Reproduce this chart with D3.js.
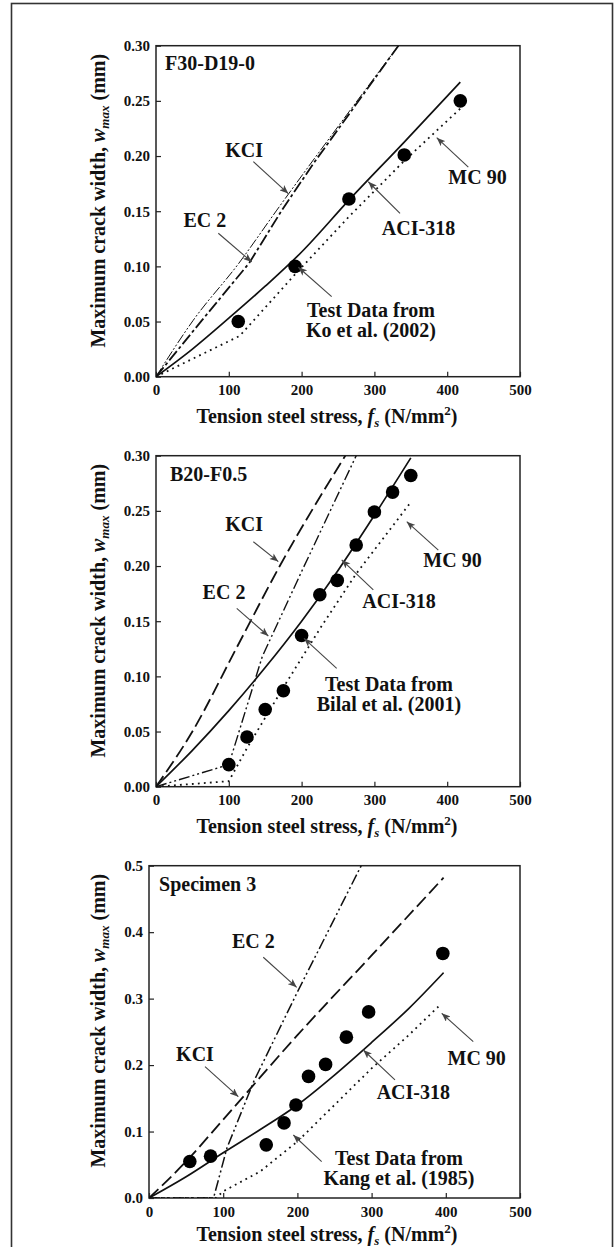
<!DOCTYPE html>
<html><head><meta charset="utf-8">
<script src="https://cdn.jsdelivr.net/npm/d3@7/dist/d3.min.js"></script>
<style>
html,body{margin:0;padding:0;background:#fff;}
svg text{font-family:"Liberation Serif","Times New Roman",serif;font-weight:bold;fill:#111;}
</style></head><body>
<svg id="chart" width="616" height="1247"></svg>
<script>
// ---------------- DATA ----------------
const xTicks = [0, 100, 200, 300, 400, 500];
const yTicksA = [0, 0.05, 0.10, 0.15, 0.20, 0.25, 0.30];
const yTicksB = [0, 0.1, 0.2, 0.3, 0.4, 0.5];
const panelNames = ["F30-D19-0", "B20-F0.5", "Specimen 3"];
const testSources = ["Ko et al. (2002)", "Bilal et al. (2001)", "Kang et al. (1985)"];
const codeNames = ["KCI", "EC 2", "MC 90", "ACI-318", "Test Data from"];
const xTitle = ["Tension steel stress, ", "f", "s", " (N/mm", "2", ")"];
const yTitle = ["Maximum crack width, ", "w", "max", " (mm)"];

// Panel 1: F30-D19-0
const p1Test = [[113, 0.050], [191, 0.100], [265, 0.161], [341, 0.201], [418, 0.250]];
const p1ACI  = [[0, 0], [50, 0.025], [100, 0.053], [150, 0.082], [200, 0.113], [265, 0.160], [340, 0.212], [418, 0.267]];
const p1MC90 = [[0, 0], [115, 0.037], [190, 0.092], [265, 0.145], [340, 0.195], [418, 0.243]];
const p1KCI  = [[0, 0], [51, 0.051], [114, 0.103], [166, 0.151], [333, 0.300]];
const p1EC2  = [[0, 0], [63, 0.051], [128, 0.103], [173, 0.151], [216, 0.193], [333, 0.300]];

// Panel 2: B20-F0.5
const p2Test = [[100, 0.020], [125, 0.045], [150, 0.070], [175, 0.087], [200, 0.137], [225, 0.174],
                [249, 0.187], [275, 0.219], [300, 0.249], [325, 0.267], [350, 0.282]];
const p2ACI  = [[0, 0], [50, 0.033], [100, 0.069], [150, 0.108], [200, 0.150], [250, 0.196], [300, 0.246], [350, 0.298]];
const p2MC90 = [[0, 0], [100, 0.005], [125, 0.035], [175, 0.090], [225, 0.143], [275, 0.193], [349, 0.257]];
const p2KCI  = [[0, 0], [50, 0.050], [110, 0.125], [170, 0.200], [260, 0.300]];
const p2EC2  = [[0, 0], [100, 0.020], [146, 0.118], [200, 0.195], [275, 0.300]];

// Panel 3: Specimen 3
const p3Test = [[55, 0.055], [83, 0.063], [158, 0.080], [182, 0.113], [198, 0.140], [215, 0.183],
                [238, 0.201], [266, 0.242], [296, 0.280], [396, 0.368]];
const p3ACI  = [[0, 0], [50, 0.032], [100, 0.068], [150, 0.103], [200, 0.140], [250, 0.185], [300, 0.234], [350, 0.285], [397, 0.339]];
const p3MC90 = [[0, 0], [90, 0], [100, 0.010], [150, 0.040], [200, 0.085], [250, 0.140], [300, 0.195], [350, 0.245], [390, 0.288]];
const p3KCI  = [[0, 0], [50, 0.055], [100, 0.118], [200, 0.245], [300, 0.365], [397, 0.482]];
const p3EC2  = [[0, 0], [87, 0], [105, 0.075], [141, 0.175], [200, 0.310], [286, 0.500]];

// ---------------- LAYOUT ----------------
const svg = d3.select("#chart");
const FONT = '"Liberation Serif","Times New Roman",serif';

svg.append("rect").attr("x", 11.5).attr("y", 3.5).attr("width", 601).attr("height", 1260)
  .attr("fill", "none").attr("stroke", "#333").attr("stroke-width", 1.6);

const defs = svg.append("defs");
defs.append("marker").attr("id", "arrow").attr("viewBox", "0 0 10 8")
  .attr("refX", 10).attr("refY", 4).attr("markerWidth", 9).attr("markerHeight", 7)
  .attr("markerUnits", "userSpaceOnUse").attr("orient", "auto")
  .append("path").attr("d", "M0,0 L10,4 L0,8 L2.5,4 z").attr("fill", "#444");

const panels = [
  { left: 156, top: 45.7, right: 520, bottom: 376.7, yMax: 0.30, yTicks: yTicksA, fmt: ".2f", titleDy: 46,
    test: p1Test, aci: p1ACI, mc: p1MC90, kci: p1KCI, ec: p1EC2,
    kciStyle: { dash: "10,2,2,2,2,2", w: 1.0 }, ecStyle: { dash: "12,3,3,3", w: 1.8 },
    nameAt: [12.4, 0.278],
    ann: { kci: [121, 0.199], kciA: [[133.7, 0.195], [181.7, 0.166]],
           ec: [67, 0.136], ecA: [[85.6, 0.130], [131.5, 0.104]],
           mc: [441.6, 0.1747], mcA: [[429, 0.190], [385.6, 0.2166]],
           aci: [360.6, 0.1284], aciA: [[335.2, 0.148], [291.6, 0.1767]],
           test: [295.3, 0.0544, 0.0357], testA: [[241.3, 0.0725], [195.5, 0.0992]] } },
  { left: 156, top: 455.7, right: 520, bottom: 786.7, yMax: 0.30, yTicks: yTicksA, fmt: ".2f", titleDy: 46,
    test: p2Test, aci: p2ACI, mc: p2MC90, kci: p2KCI, ec: p2EC2,
    kciStyle: { dash: "13,5", w: 1.8 }, ecStyle: { dash: "11,3,2,3,2,3", w: 1.4 },
    nameAt: [19.2, 0.2773],
    ann: { kci: [121, 0.232], kciA: [[133.7, 0.222], [168, 0.204]],
           ec: [93.4, 0.170], ecA: [[110.9, 0.1617], [154.3, 0.1366]],
           mc: [407.3, 0.1989], mcA: [[387.8, 0.2145], [344.4, 0.2402]],
           aci: [333.8, 0.1617], aciA: [[298.5, 0.1783], [255.1, 0.2055]],
           test: [320, 0.087, 0.0689], testA: [[248.2, 0.1073], [203.3, 0.1345]] } },
  { left: 149, top: 865.7, right: 520, bottom: 1198, yMax: 0.5, yTicks: yTicksB, fmt: ".1f", titleDy: 43,
    test: p3Test, aci: p3ACI, mc: p3MC90, kci: p3KCI, ec: p3EC2,
    kciStyle: { dash: "13,5", w: 1.8 }, ecStyle: { dash: "11,3,2,3,2,3", w: 1.5 },
    nameAt: [13.5, 0.4624],
    ann: { kci: [62, 0.2066], kciA: [[75.5, 0.1976], [120.4, 0.1524]],
           ec: [140.6, 0.3757], ecA: [[154, 0.3622], [199, 0.317]],
           mc: [441.6, 0.2001], mcA: [[437, 0.2352], [394.5, 0.2779]],
           aci: [356.2, 0.1485], aciA: [[331.5, 0.1776], [288.8, 0.2227]],
           test: [336.9, 0.0497, 0.0196], testA: [[232.7, 0.0546], [194.5, 0.0948]] } }
];

panels.forEach((p, i) => {
  const x = d3.scaleLinear().domain([0, 500]).range([p.left, p.right]);
  const y = d3.scaleLinear().domain([0, p.yMax]).range([p.bottom, p.top]);
  const g = svg.append("g");

  const clipId = "clip" + i;
  defs.append("clipPath").attr("id", clipId).append("rect")
    .attr("x", p.left).attr("y", p.top).attr("width", p.right - p.left).attr("height", p.bottom - p.top);

  // axes
  const xa = g.append("g").attr("transform", `translate(0,${p.bottom})`)
    .call(d3.axisBottom(x).tickValues(xTicks).tickFormat(d3.format("d"))
      .tickSizeInner(-5).tickSizeOuter(0).tickPadding(8));
  const ya = g.append("g").attr("transform", `translate(${p.left},0)`)
    .call(d3.axisLeft(y).tickValues(p.yTicks).tickFormat(d3.format(p.fmt))
      .tickSizeInner(-5).tickSizeOuter(0).tickPadding(6));
  [xa, ya].forEach(a => {
    a.select(".domain").remove();
    a.attr("font-family", FONT).attr("font-size", 15).attr("font-weight", "bold");
    a.selectAll(".tick line").attr("stroke", "#222").attr("stroke-width", 1.2);
    a.selectAll(".tick text").attr("fill", "#111");
  });

  g.append("rect").attr("x", p.left).attr("y", p.top)
    .attr("width", p.right - p.left).attr("height", p.bottom - p.top)
    .attr("fill", "none").attr("stroke", "#222").attr("stroke-width", 1.5);

  // axis titles
  const xt = g.append("text").attr("x", 327).attr("y", p.bottom + p.titleDy)
    .attr("text-anchor", "middle").attr("font-size", 20);
  xt.append("tspan").text(xTitle[0]);
  xt.append("tspan").attr("font-style", "italic").text(xTitle[1]);
  xt.append("tspan").attr("font-style", "italic").attr("font-size", 13).attr("dy", 4).text(xTitle[2]);
  xt.append("tspan").attr("dy", -4).text(xTitle[3]);
  xt.append("tspan").attr("font-size", 13).attr("dy", -8).text(xTitle[4]);
  xt.append("tspan").attr("dy", 8).text(xTitle[5]);

  const cy = p.top + 155;
  const yt = g.append("text").attr("transform", `translate(105,${cy}) rotate(-90)`)
    .attr("text-anchor", "middle").attr("font-size", 20);
  yt.append("tspan").text(yTitle[0]);
  yt.append("tspan").attr("font-style", "italic").text(yTitle[1]);
  yt.append("tspan").attr("font-style", "italic").attr("font-size", 13).attr("dy", 4).text(yTitle[2]);
  yt.append("tspan").attr("dy", -4).text(yTitle[3]);

  // curves
  const plot = g.append("g").attr("clip-path", `url(#${clipId})`);
  const smooth = d3.line().x(d => x(d[0])).y(d => y(d[1])).curve(d3.curveMonotoneX);
  const straight = d3.line().x(d => x(d[0])).y(d => y(d[1]));

  plot.append("path").attr("d", smooth(p.aci)).attr("fill", "none")
    .attr("stroke", "#111").attr("stroke-width", 1.7);
  plot.append("path").attr("d", straight(p.mc)).attr("fill", "none")
    .attr("stroke", "#111").attr("stroke-width", 1.8).attr("stroke-dasharray", "1.8,4.2");
  plot.append("path").attr("d", smooth(p.kci)).attr("fill", "none")
    .attr("stroke", "#111").attr("stroke-width", p.kciStyle.w).attr("stroke-dasharray", p.kciStyle.dash);
  plot.append("path").attr("d", straight(p.ec)).attr("fill", "none")
    .attr("stroke", "#111").attr("stroke-width", p.ecStyle.w).attr("stroke-dasharray", p.ecStyle.dash);

  plot.selectAll("circle.test").data(p.test).enter().append("circle")
    .attr("cx", d => x(d[0])).attr("cy", d => y(d[1])).attr("r", 6.8).attr("fill", "#000");

  // panel name
  g.append("text").attr("x", x(p.nameAt[0])).attr("y", y(p.nameAt[1]))
    .attr("font-size", 20).text(panelNames[i]);

  // annotations
  const a = p.ann;
  const label = (pos, txt) => g.append("text").attr("x", x(pos[0])).attr("y", y(pos[1]))
    .attr("text-anchor", "middle").attr("font-size", 20).text(txt);
  const arrow = (seg) => g.append("line")
    .attr("x1", x(seg[0][0])).attr("y1", y(seg[0][1]))
    .attr("x2", x(seg[1][0])).attr("y2", y(seg[1][1]))
    .attr("stroke", "#444").attr("stroke-width", 1.1).attr("marker-end", "url(#arrow)");

  label(a.kci, codeNames[0]); arrow(a.kciA);
  label(a.ec, codeNames[1]); arrow(a.ecA);
  label(a.mc, codeNames[2]); arrow(a.mcA);
  label(a.aci, codeNames[3]); arrow(a.aciA);
  label([a.test[0], a.test[1]], codeNames[4]);
  label([a.test[0], a.test[2]], testSources[i]);
  arrow(a.testA);
});
</script>
</body></html>
